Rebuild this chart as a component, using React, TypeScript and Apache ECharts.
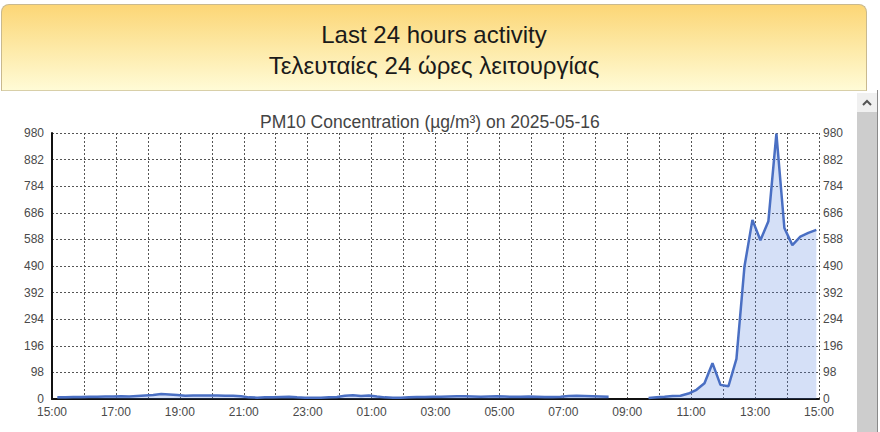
import React, { useEffect, useRef } from "react";
import * as echarts from "echarts";

const headerLines = ["Last 24 hours activity", "Τελευταίες 24 ώρες λειτουργίας"];
const chartTitle = "PM10 Concentration (µg/m³) on 2025-05-16";

// x axis: 24 hours starting 15:00 (2025-05-15) to 15:00 (2025-05-16)
const axisStartHour = 15;
const axisSpanHours = 24;
// samples every 15 minutes, first one at 15:10
const firstSampleMinutes = 10;
const sampleStepMinutes = 15;

const yMax = 980;
const yInterval = 98;

// PM10 (µg/m³), one value per 15-minute sample; null = no data
const pm10Values: (number | null)[] = [
  // 15:xx
  6, 6, 7, 7,
  // 16:xx
  8, 8, 9, 9,
  // 17:xx
  10, 9, 11, 13,
  // 18:xx
  15, 18, 17, 15,
  // 19:xx
  12, 13, 13, 13,
  // 20:xx
  13, 12, 12, 10,
  // 21:xx
  6, 5, 6, 6,
  // 22:xx
  7, 8, 6, 5,
  // 23:xx
  5, 5, 6, 7,
  // 00:xx
  12, 14, 11, 13,
  // 01:xx
  9, 6, 5, 5,
  // 02:xx
  6, 7, 7, 8,
  // 03:xx
  8, 9, 10, 10,
  // 04:xx
  9, 8, 9, 10,
  // 05:xx
  9, 8, 8, 9,
  // 06:xx
  8, 7, 7, 8,
  // 07:xx
  11, 12, 11, 10,
  // 08:10, 08:25, 08:40, 08:55
  9, 8, null, null,
  // 09:10, 09:25, 09:40, 09:55
  null, null, 4, 6,
  // 10:xx
  8, 11, 12, 20,
  // 11:xx
  34, 58, 132, 52,
  // 12:xx
  47, 148, 487, 660,
  // 13:xx
  585, 655, 978, 630,
  // 14:xx
  567, 598, 612, 623,
];

const pad2 = (n: number) => (n < 10 ? "0" + n : "" + n);

export default function App() {
  const ref = useRef<HTMLDivElement>(null);

  useEffect(() => {
    document.body.style.margin = "0";
    if (!ref.current) return;
    const chart = echarts.init(ref.current, undefined, { renderer: "svg" });

    const data = pm10Values.map((v, i) => [
      (firstSampleMinutes + i * sampleStepMinutes) / 60,
      v,
    ]);

    const labelFmt = (v: number) => {
      const k = Math.round(v);
      if (k % 2 !== 0) return "";
      return pad2((axisStartHour + k) % 24) + ":00";
    };

    const axisLabelStyle = {
      color: "#4a4a4a",
      fontSize: 12,
      lineHeight: 12,
      fontFamily: "Liberation Sans, Arial, sans-serif",
    };
    const gridLine = {
      show: true,
      lineStyle: { color: "#555", type: [2, 2] as any, width: 1 },
    };

    chart.setOption({
      animation: false,
      backgroundColor: "#ffffff",
      title: {
        text: chartTitle,
        left: 255,
        top: 108,
        textStyle: {
          color: "#444",
          fontSize: 17.5,
          fontWeight: "normal",
          fontFamily: "Liberation Sans, Arial, sans-serif",
        },
      },
      grid: { left: 52, right: 61, top: 133, bottom: 33, containLabel: false },
      xAxis: {
        type: "value",
        min: 0,
        max: axisSpanHours,
        interval: 1,
        axisLine: { show: true, lineStyle: { color: "#111", width: 2 } },
        axisTick: { show: false },
        axisLabel: { ...axisLabelStyle, formatter: labelFmt, margin: 7, showMinLabel: true, showMaxLabel: true },
        splitLine: gridLine,
      },
      yAxis: [
        {
          type: "value",
          min: 0,
          max: yMax,
          interval: yInterval,
          axisLine: { show: true, lineStyle: { color: "#111", width: 2 } },
          axisTick: { show: false },
          axisLabel: { ...axisLabelStyle, margin: 8 },
          splitLine: gridLine,
        },
        {
          type: "value",
          position: "right",
          min: 0,
          max: yMax,
          interval: yInterval,
          axisLine: { show: false },
          axisTick: { show: false },
          axisLabel: { ...axisLabelStyle, margin: 4 },
          splitLine: { show: false },
        },
      ],
      series: [
        {
          type: "line",
          yAxisIndex: 0,
          data,
          showSymbol: false,
          symbol: "none",
          connectNulls: false,
          lineStyle: { color: "#4a6fc3", width: 2.5 },
          itemStyle: { color: "#4a6fc3" },
          areaStyle: { color: "rgba(84,129,221,0.35)" },
          z: 3,
        },
      ],
    });

    return () => chart.dispose();
  }, []);

  return (
    <div style={{ position: "relative", width: 880, height: 432, overflow: "hidden", background: "#fff" }}>
      <div ref={ref} style={{ position: "absolute", left: 0, top: 0, width: 880, height: 432 }} />
      <div
        style={{
          position: "absolute",
          left: 1,
          top: 4,
          width: 866,
          height: 87,
          borderRadius: "8px 8px 0 0",
          border: "1px solid #c9b98e",
          borderBottom: "1px solid #d8cfa8",
          background: "linear-gradient(to bottom, #fcd676 0%, #fde9a6 50%, #fffbd6 100%)",
          boxSizing: "border-box",
          textAlign: "center",
          fontFamily: "Liberation Sans, Arial, sans-serif",
          fontSize: 24,
          color: "#1a1a1a",
        }}
      >
        <div style={{ position: "absolute", left: 0, right: 0, top: 16, lineHeight: "28px" }}>{headerLines[0]}</div>
        <div style={{ position: "absolute", left: 0, right: 0, top: 47, lineHeight: "28px" }}>{headerLines[1]}</div>
      </div>
      <div style={{ position: "absolute", left: 857, top: 93, width: 20, height: 339, background: "#cdcdcd" }} />
      <div style={{ position: "absolute", left: 857, top: 93, width: 20, height: 19, background: "#f0f0f0" }}>
        <svg width="20" height="19" style={{ display: "block" }}>
          <polyline points="6,12 10,8 14,12" fill="none" stroke="#555" strokeWidth="2" />
        </svg>
      </div>
      <div style={{ position: "absolute", left: 877, top: 90, width: 1, height: 342, background: "#8a8a8a" }} />
    </div>
  );
}
